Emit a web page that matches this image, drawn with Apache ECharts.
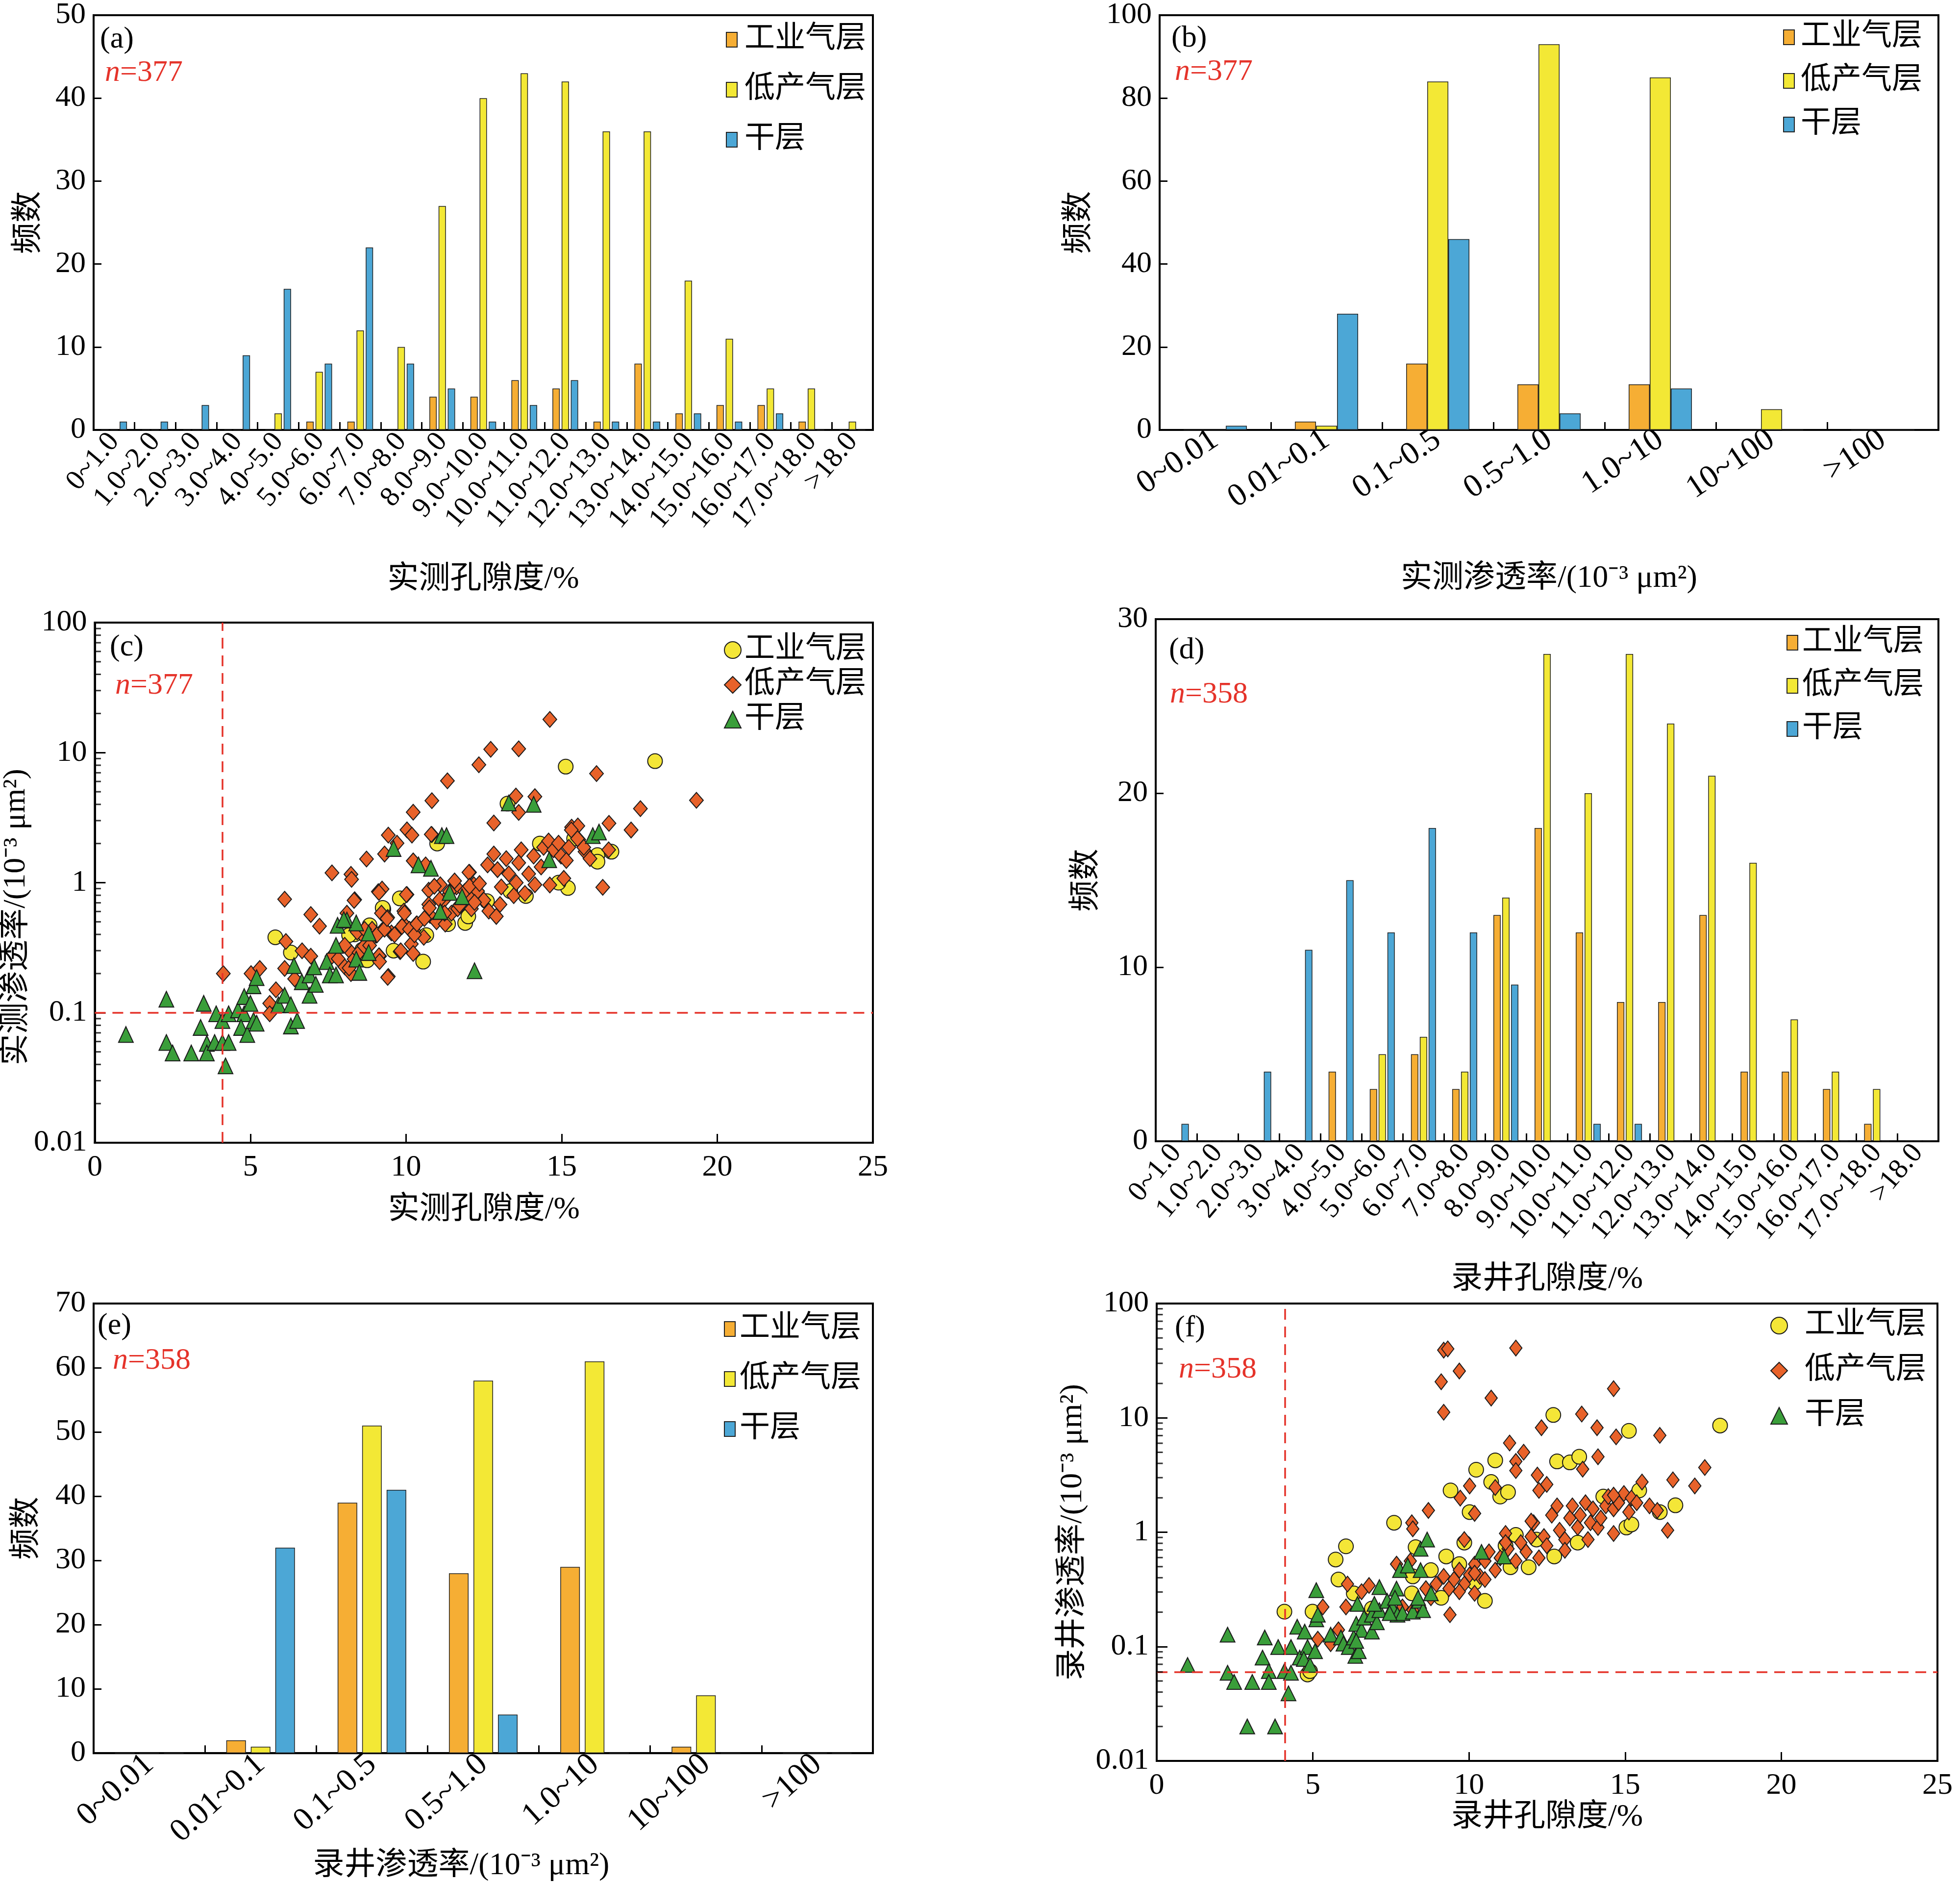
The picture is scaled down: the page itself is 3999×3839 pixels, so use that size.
<!DOCTYPE html>
<html><head><meta charset="utf-8">
<script src="https://cdn.jsdelivr.net/npm/echarts@6/dist/echarts.min.js"></script>
<style>html,body{margin:0;padding:0;background:#fff}#c{width:3999px;height:3839px}</style>
</head><body><div id="c"></div>
<script>
// ---------- categories ----------
const poroCats = ['0~1.0','1.0~2.0','2.0~3.0','3.0~4.0','4.0~5.0','5.0~6.0','6.0~7.0','7.0~8.0','8.0~9.0','9.0~10.0','10.0~11.0','11.0~12.0','12.0~13.0','13.0~14.0','14.0~15.0','15.0~16.0','16.0~17.0','17.0~18.0','>18.0'];
const permCats = ['0~0.01','0.01~0.1','0.1~0.5','0.5~1.0','1.0~10','10~100','>100'];
const seriesNames = ['工业气层','低产气层','干层'];

// ---------- (a) measured porosity histogram ----------
const a_ind = [0,0,0,0,0,1,1,0,4,4,6,5,1,8,2,3,3,1,0];
const a_low = [0,0,0,0,2,7,12,10,27,40,43,42,36,36,18,11,5,5,1];
const a_dry = [1,1,3,9,17,8,22,8,5,1,3,6,1,1,2,1,2,0,0];
// ---------- (b) measured permeability histogram ----------
const b_ind = [0,2,16,11,11,0,0];
const b_low = [0,1,84,93,85,5,0];
const b_dry = [1,28,46,4,10,0,0];
// ---------- (d) log porosity histogram ----------
const d_ind = [0,0,0,0,4,3,5,3,13,18,12,8,8,13,4,4,3,1,0];
const d_low = [0,0,0,0,0,5,6,4,14,28,20,28,24,21,16,7,4,3,0];
const d_dry = [1,0,4,11,15,12,18,12,9,0,1,1,0,0,0,0,0,0,0];
// ---------- (e) log permeability histogram ----------
const e_ind = [0,2,39,28,29,1,0];
const e_low = [0,1,51,58,61,9,0];
const e_dry = [0,32,41,6,0,0,0];

// ---------- (c) measured porosity vs permeability ----------
const c_ind = [[5.8,0.38],[6.3,0.29],[9.27,0.625],[9.8,0.757],[8.83,0.47],[8.35,0.4],[8.6,0.306],[9.6,0.3],[10.55,0.247],[11.0,2.0],[11.35,0.48],[11.9,0.49],[10.65,0.395],[8.17,0.395],[9.25,0.64],[13.26,4.05],[15.13,7.8],[18.0,8.6],[14.3,2.0],[15.4,2.18],[16.15,1.63],[16.15,1.45],[16.6,1.73],[15.2,0.91],[13.35,0.86],[13.85,0.79],[8.75,0.253],[12.0,0.55],[14.9,1.0],[12.6,0.72]];
const c_low = [[4.13,0.2],[6.1,0.746],[6.94,0.569],[7.22,0.463],[7.62,1.19],[8.23,1.16],[8.25,1.06],[8.73,1.52],[8.35,0.74],[9.11,0.853],[9.23,0.893],[9.31,1.66],[9.43,2.32],[9.71,2.01],[10.03,2.55],[10.19,2.32],[10.23,3.48],[10.83,4.27],[11.33,6.07],[12.34,8.07],[10.83,2.34],[10.23,1.47],[10.63,1.37],[12.04,1.2],[10.03,0.81],[6.14,0.353],[5.02,0.2],[5.3,0.219],[6.1,0.219],[6.66,0.299],[6.94,0.272],[6.42,0.182],[5.82,0.15],[5.62,0.118],[5.62,0.098],[9.43,0.19],[7.62,0.272],[8.03,0.225],[8.23,0.2],[8.19,0.299],[8.63,0.388],[8.91,0.438],[9.15,0.272],[8.1,0.582],
[14.62,18.0],[12.72,10.6],[13.62,10.7],[15.32,2.67],[15.52,2.73],[15.55,2.14],[15.75,1.73],[15.91,1.53],[16.51,1.79],[14.62,0.96],[15.07,1.08],[12.82,2.88],[13.53,4.64],[13.62,3.47],[14.14,4.59],[16.12,6.9],[17.53,3.71],[19.33,4.3],[16.52,2.86],[17.23,2.54],[16.32,0.92],[12.02,1.2],[9.13,0.84],[10.01,0.81],[8.33,0.73],[9.41,0.187],[10.81,2.35],
[8.17,0.221],[8.33,0.258],[8.49,0.29],[8.65,0.325],[8.89,0.366],[9.13,0.274],[9.05,0.395],[9.21,0.582],[9.41,0.54],[9.29,0.444],[9.53,0.411],[9.81,0.295],[9.93,0.48],[9.93,0.605],[10.17,0.338],[10.25,0.427],[10.33,0.48],[10.57,0.38],[10.73,0.875],[10.73,0.68],[10.77,0.56],[10.98,0.5],[11.1,0.964],[11.22,0.735],[11.26,0.48],[11.46,0.582],[11.62,0.927],[11.66,0.63],[12.02,0.794],[12.1,0.63],[12.18,0.964],[12.3,0.86],[12.5,0.735],[12.62,1.37],[12.66,0.605],[12.82,1.66],[12.9,0.55],[12.94,1.26],[13.06,0.927],[13.02,0.68],[13.22,1.53],[13.3,1.17],[13.46,0.794],[13.54,1.0],[13.62,1.42],[13.7,1.79],[13.82,0.826],[13.94,1.17],[14.1,1.6],[14.14,0.964],[14.34,1.32],[14.42,1.87],[14.58,2.09],[14.74,1.79],[14.9,2.01],[14.98,1.6],[15.15,1.48],[15.23,1.87],[15.31,2.54],[15.51,2.18],[15.71,1.87],
[8.43,0.417],[8.67,0.437],[8.83,0.329],[9.07,0.398],[9.31,0.438],[9.39,0.53],[9.63,0.398],[9.87,0.46],[9.95,0.582],[10.11,0.438],[10.27,0.398],[10.35,0.482],[10.59,0.53],[10.75,0.64],[10.91,0.938],[11.08,0.74],[11.24,0.582],[11.4,0.853],[11.56,1.03],[11.72,0.671],[11.88,0.853],[12.04,0.938],[12.2,0.705],[12.36,0.984],[9.83,0.299],[10.23,0.285],[9.15,0.247],[7.82,0.26],[8.03,0.33]];
const c_dry = [[1.0,0.068],[2.3,0.127],[2.3,0.059],[2.5,0.049],[3.1,0.049],[3.5,0.118],[3.4,0.077],[3.6,0.058],[3.6,0.049],[3.9,0.098],[4.1,0.087],[4.3,0.098],[3.85,0.059],[4.1,0.059],[4.3,0.059],[4.2,0.039],[4.6,0.105],[4.8,0.133],[4.8,0.098],[5.0,0.118],[4.7,0.077],[4.9,0.068],[5.1,0.087],[5.2,0.083],[5.1,0.161],[5.2,0.186],[5.9,0.115],[6.1,0.136],[6.3,0.115],[6.3,0.079],[6.5,0.087],[6.4,0.23],[6.65,0.173],[6.9,0.195],[6.9,0.136],[7.05,0.225],[7.1,0.165],[7.45,0.247],[7.55,0.195],[7.75,0.195],[7.75,0.329],[7.8,0.47],[8.1,0.516],[8.4,0.49],[8.4,0.258],[8.5,0.204],[8.8,0.29],[9.6,1.83],[10.4,1.37],[10.8,1.29],[11.15,2.3],[11.3,2.3],[11.4,0.84],[11.8,0.78],[11.1,0.6],[13.3,4.1],[14.1,4.0],[14.6,1.5],[16.0,2.3],[16.2,2.45],[12.2,0.21],[8.0,0.52],[8.8,0.41]];

// ---------- (f) log porosity vs permeability ----------
const f_ind = [[4.09,0.202],[4.83,0.057],[4.91,0.061],[4.99,0.202],[5.73,0.577],[5.82,0.386],[6.06,0.753],[6.31,0.292],[6.89,0.215],[7.6,1.21],[8.17,0.292],[8.29,0.74],[8.78,0.466],[8.2,0.411],[9.11,0.267],[9.27,0.614],[9.41,2.32],[9.85,0.811],[10.02,1.5],[10.23,3.52],[10.51,0.251],[10.71,2.75],[10.84,4.25],[11.0,2.05],[11.25,2.24],[11.33,0.494],[11.91,0.494],[12.7,10.6],[12.82,4.16],[13.23,4.08],[13.53,4.57],[12.73,0.614],[13.48,0.811],[14.3,2.05],[15.12,7.7],[15.04,1.1],[15.2,1.17],[15.45,2.32],[16.11,1.5],[16.61,1.72],[18.04,8.57],[11.17,0.762],[11.5,0.946],[12.16,0.863],[10.18,0.363],[9.69,0.526]];
const f_low = [[9.19,39.1],[9.32,40.1],[11.5,40.8],[9.69,25.7],[9.11,20.7],[10.71,14.9],[14.63,18.0],[9.19,11.2],[13.61,10.8],[12.32,8.2],[14.1,8.2],[14.71,6.82],[16.11,7.03],[11.3,6.03],[11.75,5.01],[11.5,4.16],[11.5,3.46],[14.13,4.57],[13.64,3.56],[12.19,3.16],[12.49,2.62],[12.24,2.32],[10.84,2.46],[10.02,2.54],[9.72,1.99],[10.18,1.46],[8.7,1.55],[8.17,1.21],[8.2,1.07],[17.55,3.68],[16.53,2.87],[17.23,2.54],[15.54,2.75],[16.36,1.04],[14.63,0.975],[9.39,0.19],[5.32,0.222],[6.11,0.352],[6.06,0.222],[5.57,0.106],[5.16,0.116],[5.82,0.14],[6.8,0.342],[6.56,0.302],[7.68,0.526],[8.12,0.56],[8.2,0.208],[7.87,0.222],
[8.95,0.352],[9.19,0.411],[9.36,0.321],[9.52,0.386],[9.69,0.466],[9.85,0.352],[9.85,0.863],[10.02,0.424],[10.18,0.526],[10.35,0.411],[10.51,0.56],[10.64,0.673],[10.84,0.466],[11.0,0.596],[11.17,0.975],[11.25,0.716],[11.5,0.56],[11.66,0.811],[11.83,0.673],[11.99,0.916],[12.07,1.21],[12.24,0.596],[12.4,0.916],[12.49,0.762],[12.65,1.41],[12.82,1.7],[12.9,1.04],[13.07,0.863],[13.07,0.695],[13.23,1.33],[13.31,1.7],[13.48,1.1],[13.56,1.41],[13.73,1.81],[13.81,0.863],[13.89,1.21],[13.97,1.6],[14.13,1.1],[14.22,1.33],[14.38,1.7],[14.46,2.05],[14.63,1.6],[14.79,1.81],[14.96,2.18],[15.12,1.5],[15.2,1.99],[15.37,1.81],[15.78,1.7],[16.03,1.55],[14.63,2.11],[11.99,1.25],[11.17,0.811],[10.18,0.438],[9.69,0.302],[10.18,0.292],[8.62,0.321],[8.78,0.267],[10.51,0.386]];
const f_dry = [[0.99,0.069],[2.27,0.127],[2.27,0.059],[2.48,0.049],[3.06,0.049],[2.9,0.02],[3.79,0.02],[3.46,0.12],[3.39,0.08],[3.59,0.061],[3.59,0.049],[3.89,0.099],[4.09,0.061],[4.3,0.059],[4.22,0.039],[4.3,0.099],[4.5,0.149],[4.74,0.135],[4.58,0.08],[4.83,0.099],[4.71,0.078],[4.91,0.069],[5.11,0.173],[5.16,0.19],[5.11,0.311],[5.07,0.091],[5.57,0.127],[5.9,0.12],[5.98,0.106],[6.15,0.099],[6.31,0.12],[6.36,0.083],[6.47,0.091],[6.39,0.158],[6.43,0.236],[6.56,0.14],[6.64,0.179],[6.89,0.135],[6.89,0.19],[7.05,0.163],[7.13,0.208],[7.13,0.331],[6.97,0.236],[7.38,0.251],[7.54,0.222],[7.68,0.321],[7.71,0.19],[7.79,0.466],[7.63,0.267],[7.87,0.196],[8.04,0.511],[8.2,0.202],[8.4,0.251],[8.45,0.466],[8.45,0.716],[8.53,0.208],[8.66,0.863],[8.78,0.292],[8.37,0.267],[10.4,0.673],[11.12,0.614],[7.46,0.196],[6.39,0.112]];

// cut-off reference lines
const c_cut = {x: 4.1, y: 0.1};
const f_cut = {x: 4.1, y: 0.058};
// log-axis minor tick values
const minorTickVals = [0.02,0.03,0.04,0.05,0.06,0.07,0.08,0.09,0.2,0.3,0.4,0.5,0.6,0.7,0.8,0.9,2,3,4,5,6,7,8,9,20,30,40,50,60,70,80,90];

// ---------- styling ----------
const FONT = 'Liberation Serif, Noto Sans CJK SC';
const CJK = 'Liberation Serif, Noto Sans CJK SC';
const C_IND = '#F6AE34', C_LOW = '#F3E835', C_DRY = '#4CA7D6';
const S_IND = '#F4E637', S_LOW = '#E8622A', S_DRY = '#3A9E3A';
const RED = '#E5332A';

const grids = [
  {left:191, top:24, width:1590, height:853},
  {left:2366, top:24, width:1589, height:853},
  {left:191, top:1270, width:1590, height:1061},
  {left:2358, top:1263, width:1597, height:1065},
  {left:191, top:2659, width:1590, height:931},
  {left:2360, top:2659, width:1593, height:933}
].map(g => Object.assign({show:true, borderColor:'#000', borderWidth:4, backgroundColor:'rgba(0,0,0,0)'}, g));

const nameStyle = {fontSize:64, fontFamily:CJK, color:'#000'};
function catX(gi, cats, rotate, fs, name, nameGap, pad){
  return {type:'category', gridIndex:gi, data:cats, boundaryGap:true,
    axisLine:{lineStyle:{color:'#000', width:4}},
    axisTick:{show:true, inside:true, length:16, lineStyle:{width:3, color:'#000'}},
    axisLabel:{rotate:rotate, interval:0, fontSize:fs, fontFamily:FONT, color:'#000', margin:14},
    splitLine:{show:false},
    name:name, nameLocation:'middle', nameGap:nameGap,
    nameTextStyle:Object.assign({padding:pad || 0}, nameStyle)};
}
function valX(gi, name, nameGap){
  return {type:'value', gridIndex:gi, min:0, max:25, interval:5,
    axisLine:{lineStyle:{color:'#000', width:4}},
    axisTick:{show:true, inside:true, length:18, lineStyle:{width:3, color:'#000'}},
    axisLabel:{fontSize:62, fontFamily:FONT, color:'#000', margin:20},
    splitLine:{show:false},
    name:name, nameLocation:'middle', nameGap:nameGap, nameTextStyle:nameStyle};
}
function valY(gi, max, interval, name, nameGap){
  return {type:'value', gridIndex:gi, min:0, max:max, interval:interval,
    axisLine:{show:true, lineStyle:{color:'#000', width:4}},
    axisTick:{show:true, inside:true, length:16, lineStyle:{width:3, color:'#000'}},
    axisLabel:{fontSize:62, fontFamily:FONT, color:'#000', margin:16},
    splitLine:{show:false},
    name:name, nameLocation:'middle', nameRotate:90, nameGap:nameGap, nameTextStyle:nameStyle};
}
function logY(gi, name, nameGap, pad){
  return {type:'log', logBase:10, gridIndex:gi, min:0.01, max:100,
    axisLine:{show:true, lineStyle:{color:'#000', width:4}},
    axisTick:{show:true, inside:true, length:22, lineStyle:{width:3, color:'#000'}},
    axisLabel:{fontSize:62, fontFamily:FONT, color:'#000', margin:16,
      formatter: v => String(+Number(v).toPrecision(1))},
    splitLine:{show:false},
    name:name, nameLocation:'middle', nameRotate:90, nameGap:nameGap,
    nameTextStyle:Object.assign({padding:pad || 0}, nameStyle)};
}

const xAxes = [
  catX(0, poroCats, 50, 58, '实测孔隙度/%', 273),
  catX(1, permCats, 34, 66, '实测渗透率/(10⁻³ μm²)', 271),
  valX(2, '实测孔隙度/%', 105),
  catX(3, poroCats, 50, 58, '录井孔隙度/%', 250),
  catX(4, permCats, 42, 66, '录井渗透率/(10⁻³ μm²)', 184, [0, 90, 0, 0]),
  valX(5, '录井孔隙度/%', 80)
];
const yAxes = [
  valY(0, 50, 10, '频数', 100),
  valY(1, 100, 20, '频数', 132),
  logY(2, '实测渗透率/(10⁻³ μm²)', 115, [0, 140, 0, 0]),
  valY(3, 30, 10, '频数', 109),
  valY(4, 70, 10, '频数', 104),
  logY(5, '录井渗透率/(10⁻³ μm²)', 139)
];

function bars(gi, tag, ind, low, dry, bw, gap){
  const cols = [C_IND, C_LOW, C_DRY];
  return [ind, low, dry].map((d, k) => ({
    type:'bar', name: tag + ':' + seriesNames[k], xAxisIndex:gi, yAxisIndex:gi, data:d,
    barWidth:bw, barGap:gap,
    itemStyle:{color:cols[k], borderColor:'#222', borderWidth:1.5}
  }));
}
function scatters(gi, tag, ind, low, dry, sizes, cut){
  const cols = [S_IND, S_LOW, S_DRY];
  const syms = ['circle','diamond','triangle'];
  const out = [ind, low, dry].map((d, k) => ({
    type:'scatter', name: tag + ':' + seriesNames[k], xAxisIndex:gi, yAxisIndex:gi, data:d,
    symbol:syms[k], symbolSize:sizes[k],
    itemStyle:{color:cols[k], borderColor:'#1a1a1a', borderWidth:2, opacity:1}
  }));
  out[0].markLine = {silent:true, symbol:['none','none'], animation:false,
    label:{show:false}, lineStyle:{color:RED, type:[22,14], width:3.5},
    data:[{xAxis:cut.x}, {yAxis:cut.y}]};
  out.push({type:'scatter', name:'minor-' + tag, xAxisIndex:gi, yAxisIndex:gi, silent:true, z:10,
    data:minorTickVals.map(v => [0, v]), symbol:'rect', symbolSize:[13,3], symbolOffset:[6,0],
    itemStyle:{color:'#000'}});
  return out;
}

const series = [].concat(
  bars(0, 'a', a_ind, a_low, a_dry, 15, '25%'),
  bars(1, 'b', b_ind, b_low, b_dry, 43, '0%'),
  scatters(2, 'c', c_ind, c_low, c_dry, [30, [28,32], [30,32]], c_cut),
  bars(3, 'd', d_ind, d_low, d_dry, 15, '20%'),
  bars(4, 'e', e_ind, e_low, e_dry, 40, '25%'),
  scatters(5, 'f', f_ind, f_low, f_dry, [30, [25,32], [30,30]], f_cut)
);

function legend(tag, right, top, gap, bar, padLeft){
  const base = {orient:'vertical', right:right, top:top, itemGap:gap, align:'left',
    data: seriesNames.map(n => tag + ':' + n),
    formatter: n => n.slice(2),
    textStyle:{fontSize:62, fontFamily:CJK, color:'#000', padding:[0,0,0,padLeft]}};
  if (bar){ base.icon = 'rect'; base.itemWidth = 22; base.itemHeight = 30; }
  else { base.itemWidth = 34; base.itemHeight = 34; }
  return base;
}
const legends = [
  legend('a', 2227, 45, 40, true, 10),
  legend('b', 72, 40, 27, true, 8),
  legend('c', 2227, 1290, 9, false, 2),
  legend('d', 69, 1275, 26, true, 4),
  legend('e', 2237, 2675, 40, true, 4),
  legend('f', 64, 2668, 30, false, 30)
];

const tStyle = {fontSize:62, fontWeight:'normal', fontFamily:FONT, color:'#000'};
const nStyle = {fontSize:62, fontWeight:'normal', fontFamily:FONT, color:RED,
  rich:{i:{fontSize:62, fontStyle:'italic', fontFamily:FONT, color:RED}}};
const panelLabels = [
  ['(a)', 204, 50, 'n', '377', 214, 118],
  ['(b)', 2390, 48, 'n', '377', 2397, 116],
  ['(c)', 224, 1290, 'n', '377', 235, 1368],
  ['(d)', 2385, 1296, 'n', '358', 2387, 1386],
  ['(e)', 199, 2674, 'n', '358', 230, 2745],
  ['(f)', 2397, 2679, 'n', '358', 2405, 2763]
];
const titles = [];
panelLabels.forEach(p => {
  titles.push({text:p[0], left:p[1], top:p[2], padding:0, textStyle:tStyle});
  titles.push({text:'{i|' + p[3] + '}=' + p[4], left:p[5], top:p[6], padding:0, textStyle:nStyle});
});

const chart = echarts.init(document.getElementById('c'), null, {renderer:'canvas'});
chart.setOption({
  animation:false,
  backgroundColor:'#fff',
  title:titles,
  legend:legends,
  grid:grids,
  xAxis:xAxes,
  yAxis:yAxes,
  series:series
});
</script></body></html>
